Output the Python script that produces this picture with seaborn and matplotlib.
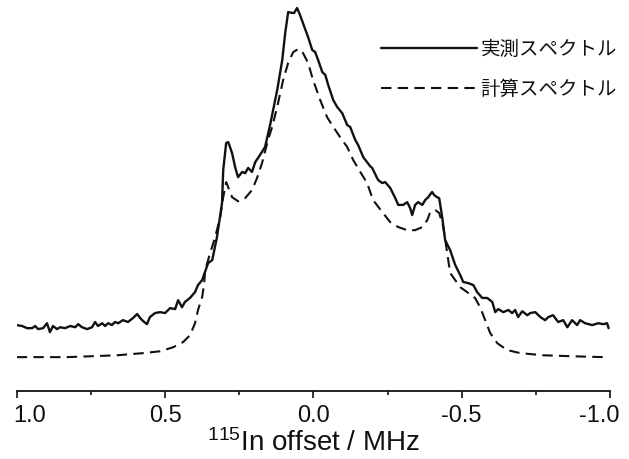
import matplotlib
matplotlib.use("Agg")
import matplotlib.pyplot as plt
import matplotlib.transforms as mtransforms
import seaborn as sns
import pandas as pd
from matplotlib.ticker import FixedLocator

# ---- data (offset in MHz, intensity in a.u., calc. peak = 100) ----
exp_offset = [1.000, 0.982, 0.965, 0.948, 0.938, 0.928, 0.911, 0.898, 0.888, 0.878,
              0.864, 0.854, 0.837, 0.820, 0.803, 0.793, 0.780, 0.763, 0.746, 0.736,
              0.726, 0.712, 0.702, 0.692, 0.679, 0.669, 0.658, 0.642, 0.625, 0.608,
              0.594, 0.584, 0.574, 0.561, 0.551, 0.534, 0.517, 0.500, 0.483, 0.466,
              0.456, 0.443, 0.433, 0.416, 0.399, 0.389, 0.375, 0.355, 0.341, 0.325,
              0.308, 0.304, 0.294, 0.287, 0.274, 0.264, 0.254, 0.240, 0.230, 0.220,
              0.207, 0.196, 0.180, 0.163, 0.146, 0.122, 0.105, 0.095, 0.085, 0.072,
              0.065, 0.055, 0.045, 0.035, 0.018, 0.004, -0.006, -0.016, -0.030, -0.040,
              -0.050, -0.067, -0.080, -0.097, -0.114, -0.124, -0.141, -0.151, -0.168, -0.191,
              -0.198, -0.218, -0.232, -0.242, -0.259, -0.276, -0.286, -0.303, -0.316, -0.326,
              -0.333, -0.343, -0.353, -0.367, -0.377, -0.387, -0.400, -0.407, -0.417, -0.424,
              -0.434, -0.444, -0.461, -0.478, -0.495, -0.505, -0.522, -0.539, -0.552, -0.569,
              -0.586, -0.603, -0.613, -0.623, -0.640, -0.657, -0.670, -0.680, -0.690, -0.704,
              -0.721, -0.731, -0.748, -0.765, -0.781, -0.792, -0.808, -0.825, -0.842, -0.856,
              -0.872, -0.889, -0.899, -0.916, -0.940, -0.960, -0.977, -0.990, -0.995]
exp_intensity = [10.4, 10.1, 9.4, 9.4, 10.1, 9.1, 9.4, 11.0, 8.1, 10.1,
                 9.1, 9.7, 9.4, 10.1, 9.7, 10.7, 9.7, 9.1, 9.7, 11.4,
                 10.1, 11.0, 10.1, 11.0, 10.4, 11.4, 11.0, 12.0, 11.4, 12.7,
                 14.0, 12.7, 11.7, 10.7, 13.0, 14.3, 14.6, 14.3, 15.9, 15.6,
                 18.5, 16.2, 17.9, 19.2, 21.1, 23.4, 25.0, 30.5, 31.5, 39.0,
                 50.0, 60.7, 69.5, 69.8, 66.2, 61.7, 58.4, 60.1, 59.7, 61.4,
                 60.1, 63.3, 65.6, 68.2, 75.3, 86.7, 96.4, 105.2, 112.0, 111.7,
                 111.7, 113.3, 111.0, 108.4, 103.9, 99.7, 99.0, 96.4, 92.5, 91.6,
                 88.3, 83.4, 81.2, 79.2, 75.3, 74.7, 70.5, 68.8, 64.9, 62.0,
                 61.4, 57.5, 56.5, 56.8, 54.9, 51.6, 49.4, 49.4, 50.3, 48.4,
                 46.1, 49.4, 50.3, 49.4, 51.0, 51.9, 53.6, 52.6, 51.9, 51.6,
                 45.5, 38.0, 34.7, 29.9, 26.6, 24.4, 24.0, 23.4, 21.1, 19.2,
                 19.2, 17.9, 14.6, 15.6, 14.6, 15.3, 14.3, 15.3, 13.0, 14.9,
                 13.6, 14.3, 14.6, 13.0, 12.0, 13.0, 13.6, 11.4, 12.0, 9.7,
                 12.0, 10.4, 12.0, 11.0, 10.4, 11.0, 10.7, 11.0, 9.4]

calc_offset = [1.000, 0.830, 0.662, 0.574, 0.517, 0.473, 0.439, 0.416, 0.399, 0.389,
               0.375, 0.368, 0.365, 0.348, 0.331, 0.314, 0.304, 0.294, 0.274, 0.254,
               0.230, 0.207, 0.190, 0.173, 0.153, 0.139, 0.122, 0.102, 0.085, 0.068,
               0.051, 0.035, 0.018, 0.001, -0.023, -0.046, -0.067, -0.090, -0.114, -0.134,
               -0.158, -0.181, -0.201, -0.232, -0.259, -0.286, -0.316, -0.343, -0.367, -0.384,
               -0.394, -0.411, -0.424, -0.438, -0.448, -0.461, -0.495, -0.518, -0.545, -0.562,
               -0.579, -0.596, -0.620, -0.653, -0.697, -0.775, -0.866, -0.977]
calc_intensity = [0.0, 0.0, 0.6, 1.3, 1.9, 3.2, 4.9, 7.1, 11.0, 15.3,
                  19.5, 24.0, 28.2, 33.8, 39.0, 45.5, 51.9, 56.8, 51.9, 50.6,
                  51.6, 54.2, 58.1, 63.0, 70.5, 74.7, 81.2, 89.9, 95.5, 99.0,
                  100.0, 98.7, 95.5, 89.9, 83.4, 77.9, 74.7, 71.4, 68.2, 64.0,
                  60.1, 56.5, 51.0, 47.1, 43.8, 42.2, 41.2, 41.2, 42.2, 44.5,
                  47.1, 47.7, 46.8, 42.2, 35.7, 27.3, 22.7, 21.1, 19.2, 16.2,
                  12.0, 7.8, 4.5, 2.3, 1.3, 0.6, 0.3, 0.0]

series_labels = ["実測スペクトル", "計算スペクトル"]
major_ticks = [1.0, 0.5, 0.0, -0.5, -1.0]
major_tick_labels = ["1.0", "0.5", "0.0", "-0.5", "-1.0"]
minor_ticks = [0.75, 0.25, -0.25, -0.75]
x_label = r"$^{115}$In offset / MHz"

# ---- plotting ----
sns.set_style("white")
plt.rcParams["font.family"] = ["Liberation Sans", "Noto Sans CJK JP", "DejaVu Sans"]
plt.rcParams["mathtext.fontset"] = "custom"
plt.rcParams["mathtext.rm"] = "Liberation Sans"
plt.rcParams["mathtext.it"] = "Liberation Sans"
plt.rcParams["axes.unicode_minus"] = False

df_exp = pd.DataFrame({"offset": exp_offset, "intensity": exp_intensity})
df_calc = pd.DataFrame({"offset": calc_offset, "intensity": calc_intensity})

fig = plt.figure(figsize=(6.29, 4.59), dpi=100)
ax = fig.add_axes([0.0266, 0.1481, 0.9433, 0.8519])

line_color = "#111111"
sns.lineplot(data=df_exp, x="offset", y="intensity", ax=ax, color=line_color,
             linewidth=1.7, estimator=None, sort=False, label=series_labels[0])
sns.lineplot(data=df_calc, x="offset", y="intensity", ax=ax, color=line_color,
             linewidth=1.5, estimator=None, sort=False, label=series_labels[1],
             dashes=False)
ax.lines[1].set_dashes([5, 3])

ax.set_xlim(1.0, -1.0)
ax.set_ylim(-11.0, 115.9)

for s in ["left", "top", "right"]:
    ax.spines[s].set_visible(False)
ax.spines["bottom"].set_linewidth(1.3)
ax.spines["bottom"].set_color(line_color)

ax.set_yticks([])
ax.set_ylabel("")
ax.set_xticks(major_ticks)
ax.set_xticklabels(major_tick_labels)
ax.xaxis.set_minor_locator(FixedLocator(minor_ticks))
ax.tick_params(axis="x", which="major", direction="out", length=5, width=1.2,
               color=line_color, labelsize=17, pad=5, labelcolor="#111111", bottom=True)
ax.tick_params(axis="x", which="minor", direction="out", length=3, width=1.2,
               color=line_color, bottom=True)
ax.set_xlabel(x_label, fontsize=20, labelpad=2, color="#111111")

# edge labels are pulled inward as in the reference
tick_labels = ax.get_xticklabels()
shifts = {0: 13, len(tick_labels) - 1: -11}
for i, dx in shifts.items():
    lab = tick_labels[i]
    lab.set_transform(lab.get_transform() +
                      mtransforms.ScaledTranslation(dx / 100, 0, fig.dpi_scale_trans))

leg = ax.legend(loc="upper right", bbox_to_anchor=(617 / 629, 1 - 41 / 459),
                bbox_transform=fig.transFigure, frameon=False, fontsize=14,
                handlelength=4.9, handletextpad=0.2, labelspacing=1.1,
                borderpad=0, borderaxespad=0)
for t in leg.get_texts():
    t.set_color("#111111")

fig.savefig("out.png", dpi=100)
